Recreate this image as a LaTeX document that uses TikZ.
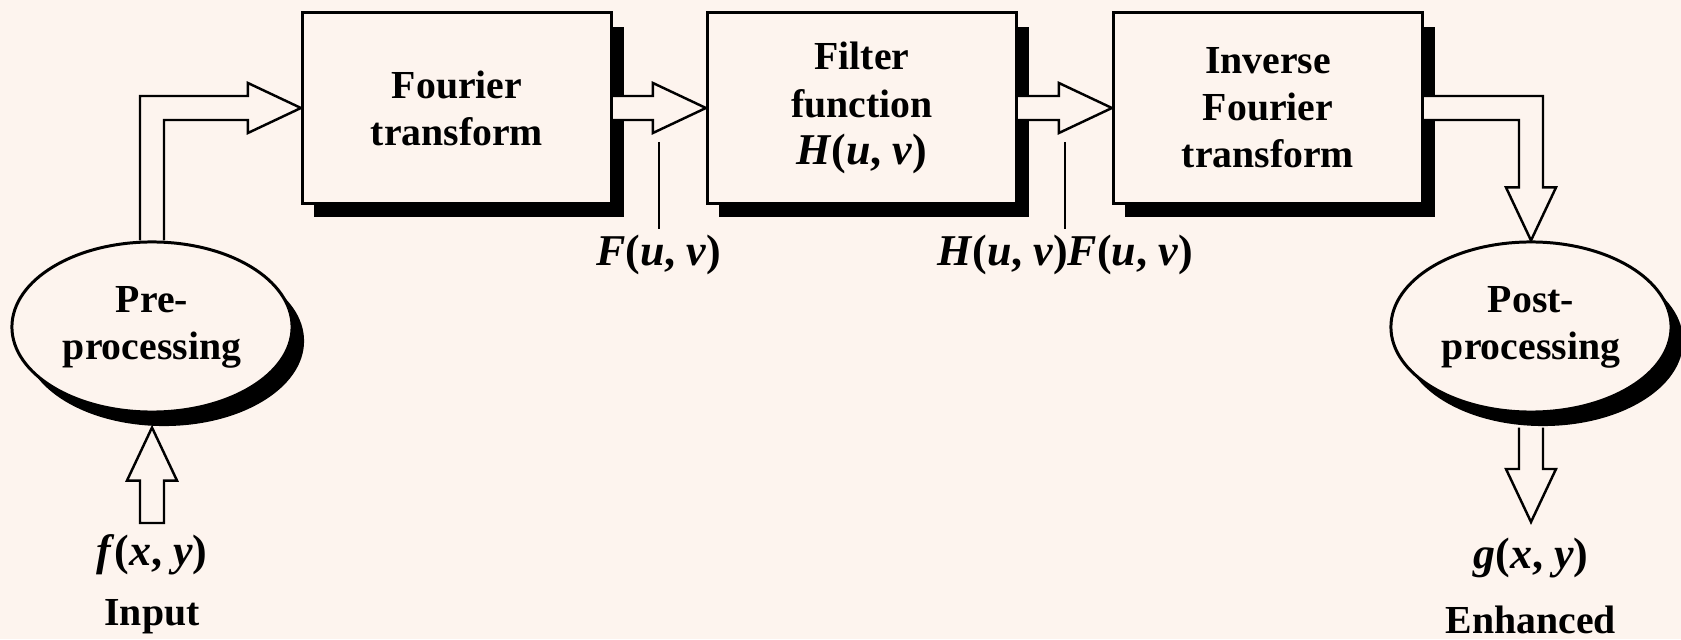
\documentclass[tikz,border=0pt]{standalone}
\usepackage{fontspec}
\setmainfont{Liberation Serif}
\usepackage{tikz}
\usetikzlibrary{calc,shapes.geometric,shadows}
\definecolor{paper}{RGB}{253,244,238}
\newcommand\boxfont{\fontsize{11.3}{13.4}\selectfont\bfseries}
\newcommand\varfont{\fontsize{12.5}{15}\selectfont\bfseries}
\newcommand\vi[1]{\textit{#1}}
\tikzset{
  blockshadow/.style={drop shadow={shadow xshift=0.12cm, shadow yshift=-0.14cm, fill=black, opacity=1}},
  stage/.style={draw, line width=0.85pt, fill=paper, minimum width=3.09cm, minimum height=1.9cm,
    inner sep=0pt, align=center, font=\boxfont, blockshadow},
  proc/.style={ellipse, draw, line width=0.85pt, fill=paper, minimum width=2.8cm, minimum height=1.7cm,
    inner sep=0pt, align=center, font=\boxfont, blockshadow},
  fat/.style={draw, line width=0.7pt, line join=miter},
  tick/.style={line width=0.6pt, shorten >=0.5mm},
  tag/.style={inner sep=0pt, font=\varfont},
  word/.style={inner sep=0pt, font=\boxfont}
}

\begin{document}
\begin{tikzpicture}[x=0.01cm, y=0.01cm]
  \def\sw{12}
  \def\hw{25}
  \def\hl{53}
  \useasboundingbox[fill=paper] (0,0) rectangle (1681,639);
  \node[stage] (fourier) at (457,531) {Fourier\\transform};
  \node[stage] (filter) at (862,531) {Filter\\function\\{\varfont\vi{H}(\vi{u}, \vi{v})}};
  \node[stage] (inverse) at (1268,531) {Inverse\\Fourier\\transform};
  \node[proc] (pre) at (152,312) {Pre-\\processing};
  \node[proc] (post) at (1531,312) {Post-\\processing};
  \foreach \a/\b in {fourier/filter, filter/inverse} {
    \draw[fat, fill=paper] ($(\a.east)+(0,\sw)$) -- ($(\b.west)+(-\hl,\sw)$) -- ++(0,\hw-\sw) -- (\b.west)
      -- ($(\b.west)+(-\hl,-\hw)$) -- ++(0,\hw-\sw) -- ($(\a.east)+(0,-\sw)$);
  }
  \draw[fat] ($(pre.north)+(-\sw,0)$) |- ($(fourier.west)+(-\hl,\sw)$) -- ++(0,\hw-\sw) -- (fourier.west)
    -- ($(fourier.west)+(-\hl,-\hw)$) -- ++(0,\hw-\sw) -| ($(pre.north)+(\sw,0)$);
  \draw[fat, fill=paper] ($(inverse.east)+(0,\sw)$) -| ($(post.north)+(\sw,\hl)$) -- ++(\hw-\sw,0) -- (post.north)
    -- ($(post.north)+(-\hw,\hl)$) -- ++(\hw-\sw,0) |- ($(inverse.east)+(0,-\sw)$);
  \node[tag] (fuv) at (659,384) {\vi{F}(\vi{u}, \vi{v})};
  \node[tag] (hfuv) at (1065,384) {\vi{H}(\vi{u}, \vi{v})\vi{F}(\vi{u}, \vi{v})};
  \coordinate (fuvtop) at (659,497);
  \coordinate (hfuvtop) at (1065,497);
  \draw[tick] (fuvtop) -- (fuv.north);
  \draw[tick] (hfuvtop) -- (hfuv.north);
  \coordinate (inbase) at (152,116);
  \coordinate (intip) at ($(pre.south)+(0,-14)$);
  \draw[fat] ($(inbase)+(-\sw,0)$) -- ($(intip)+(-\sw,-\hl)$) -- ++(\sw-\hw,0) -- (intip)
    -- ($(intip)+(\hw,-\hl)$) -- ++(\sw-\hw,0) -- ($(inbase)+(\sw,0)$) -- cycle;
  \coordinate (outtop) at ($(post.south)+(0,-14)$);
  \coordinate (outtip) at (1531,117);
  \draw[fat] ($(outtop)+(-\sw,0)$) -- ($(outtip)+(-\sw,\hl)$) -- ++(\sw-\hw,0) -- (outtip)
    -- ($(outtip)+(\hw,\hl)$) -- ++(\sw-\hw,0) -- ($(outtop)+(\sw,0)$);
  \node[tag] (fxy) at (152,84) {\vi{f}(\vi{x}, \vi{y})};
  \node[word] (input) at (152,22) {Input};
  \node[tag] (gxy) at (1531,81) {\vi{g}(\vi{x}, \vi{y})};
  \node[word] (enhanced) at (1531,19) {Enhanced};
\end{tikzpicture}
\end{document}
